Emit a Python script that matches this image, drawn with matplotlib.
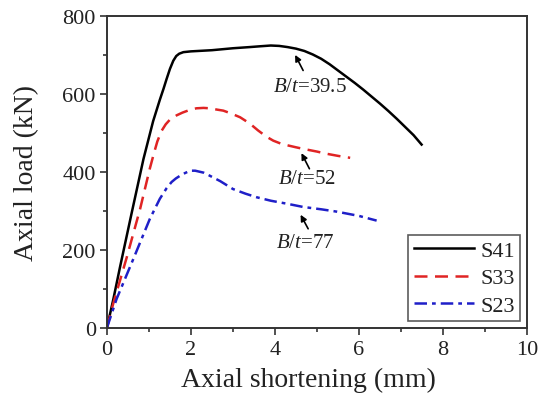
import numpy as np
import matplotlib
matplotlib.use("Agg")
import matplotlib.pyplot as plt
from matplotlib.ticker import MultipleLocator

# Load-shortening curves
s41_x = [0, 0.15, 0.31, 0.59, 0.87, 1.1, 1.26, 1.35, 1.42, 1.5, 1.58, 1.65, 1.72, 1.82, 2.0, 2.5, 3.0, 3.4,
         3.64, 3.9, 4.1, 4.3, 4.5, 4.7, 4.9, 5.1, 5.3, 5.5, 5.7, 5.9, 6.1, 6.3, 6.5, 6.7, 6.9, 7.1, 7.3, 7.49]
s41_y = [0, 72, 155, 295, 433, 530, 585, 614, 638, 664, 685, 697, 703, 707, 709, 712, 717, 720,
         722, 724, 723, 720, 716, 710, 701, 690, 676, 660, 644, 628, 611, 593, 575, 556, 536, 515, 494, 470]

s33_x = [0, 0.15, 0.47, 0.79, 1.02, 1.12, 1.2, 1.30, 1.4, 1.5, 1.66, 1.8, 1.95, 2.13, 2.3, 2.45, 2.6, 2.77,
         2.95, 3.17, 3.4, 3.6, 3.8, 3.96, 4.15, 4.3, 4.5, 4.67, 5.0, 5.2, 5.5, 5.79]
s33_y = [0, 62, 180, 305, 408, 448, 478, 505, 522, 534, 545, 552, 558, 563, 564, 563, 560, 557,
         550, 540, 524, 506, 490, 480, 472, 468, 463, 459, 452, 447, 441, 436]

s23_x = [0, 0.23, 0.63, 1.02, 1.26, 1.42, 1.54, 1.64, 1.74, 1.86, 1.98, 2.10, 2.3, 2.45, 2.7, 3.0, 3.3, 3.56,
         3.9, 4.3, 4.67, 5.1, 5.47, 6.0, 6.42]
s23_y = [0, 74, 177, 279, 331, 358, 374, 383, 390, 397, 403, 403, 398, 390, 376, 356, 344, 335,
         326, 318, 310, 304, 298, 287, 275]

series = ["S41", "S33", "S23"]
ratios = ["39.5", "52", "77"]

plt.rcParams['font.family'] = ['Liberation Serif', 'DejaVu Serif']
plt.rcParams['mathtext.fontset'] = 'custom'
plt.rcParams['mathtext.it'] = 'Liberation Serif:italic'
plt.rcParams['mathtext.rm'] = 'Liberation Serif'
plt.rcParams['text.color'] = '#222222'
plt.rcParams['axes.labelcolor'] = '#222222'

fig = plt.figure(figsize=(5.4, 4.02), dpi=100)
ax = fig.add_axes([0.198, 0.182, 0.778, 0.776])

ax.plot(s41_x, s41_y, color='black', lw=1.8, label=series[0])
ax.plot(s33_x, s33_y, color='#e02424', lw=1.8, dashes=(5.2, 3), label=series[1])
ax.plot(s23_x, s23_y, color='#1f1fc8', lw=1.8, dashes=(5, 2, 1.5, 2), label=series[2])

ax.set_xlim(0, 10)
ax.set_ylim(0, 800)
ax.xaxis.set_major_locator(MultipleLocator(2))
ax.xaxis.set_minor_locator(MultipleLocator(1))
ax.yaxis.set_major_locator(MultipleLocator(200))
ax.yaxis.set_minor_locator(MultipleLocator(100))
ax.tick_params(which='both', direction='out', top=False, right=False, labelsize=16,
               color='#333333', labelcolor='#222222')
ax.tick_params(which='major', length=5, width=1.2, pad=3)
ax.tick_params(which='minor', length=3, width=1.2)
ax.tick_params(axis='x', which='major', pad=4)
for sp in ax.spines.values():
    sp.set_linewidth(1.4)
    sp.set_color('#333333')

ax.set_xlabel('Axial shortening (mm)', fontsize=20, labelpad=7)
ax.set_ylabel('Axial load (kN)', fontsize=20, labelpad=17)
ax.xaxis.set_label_coords(0.48, -0.125, transform=ax.transAxes)
ax.xaxis.label.set_va('top')

# B/t annotations: arrow tail, arrow tip, label centre
tails = [(4.67, 660), (4.82, 408), (4.79, 254)]
tips = [(4.48, 700), (4.63, 448), (4.61, 290)]
labels_at = [(4.83, 618), (4.76, 382), (4.71, 220)]
for r, tail, tip, pos in zip(ratios, tails, tips, labels_at):
    ax.annotate('', xy=tip, xytext=tail,
                arrowprops=dict(arrowstyle='-|>', color='black', lw=1.2,
                                mutation_scale=9, shrinkA=0, shrinkB=0))
    ax.text(pos[0], pos[1], r'$B$/$t$=' + r, fontsize=15, ha='center', va='center')

leg = ax.legend(loc='lower right', fontsize=16, frameon=True, fancybox=False,
                edgecolor='#333333', handlelength=2.7, handletextpad=0.3,
                borderpad=0.25, labelspacing=0.3, borderaxespad=0.3)
leg.get_frame().set_linewidth(1.2)

fig.savefig('out.png', dpi=100)
